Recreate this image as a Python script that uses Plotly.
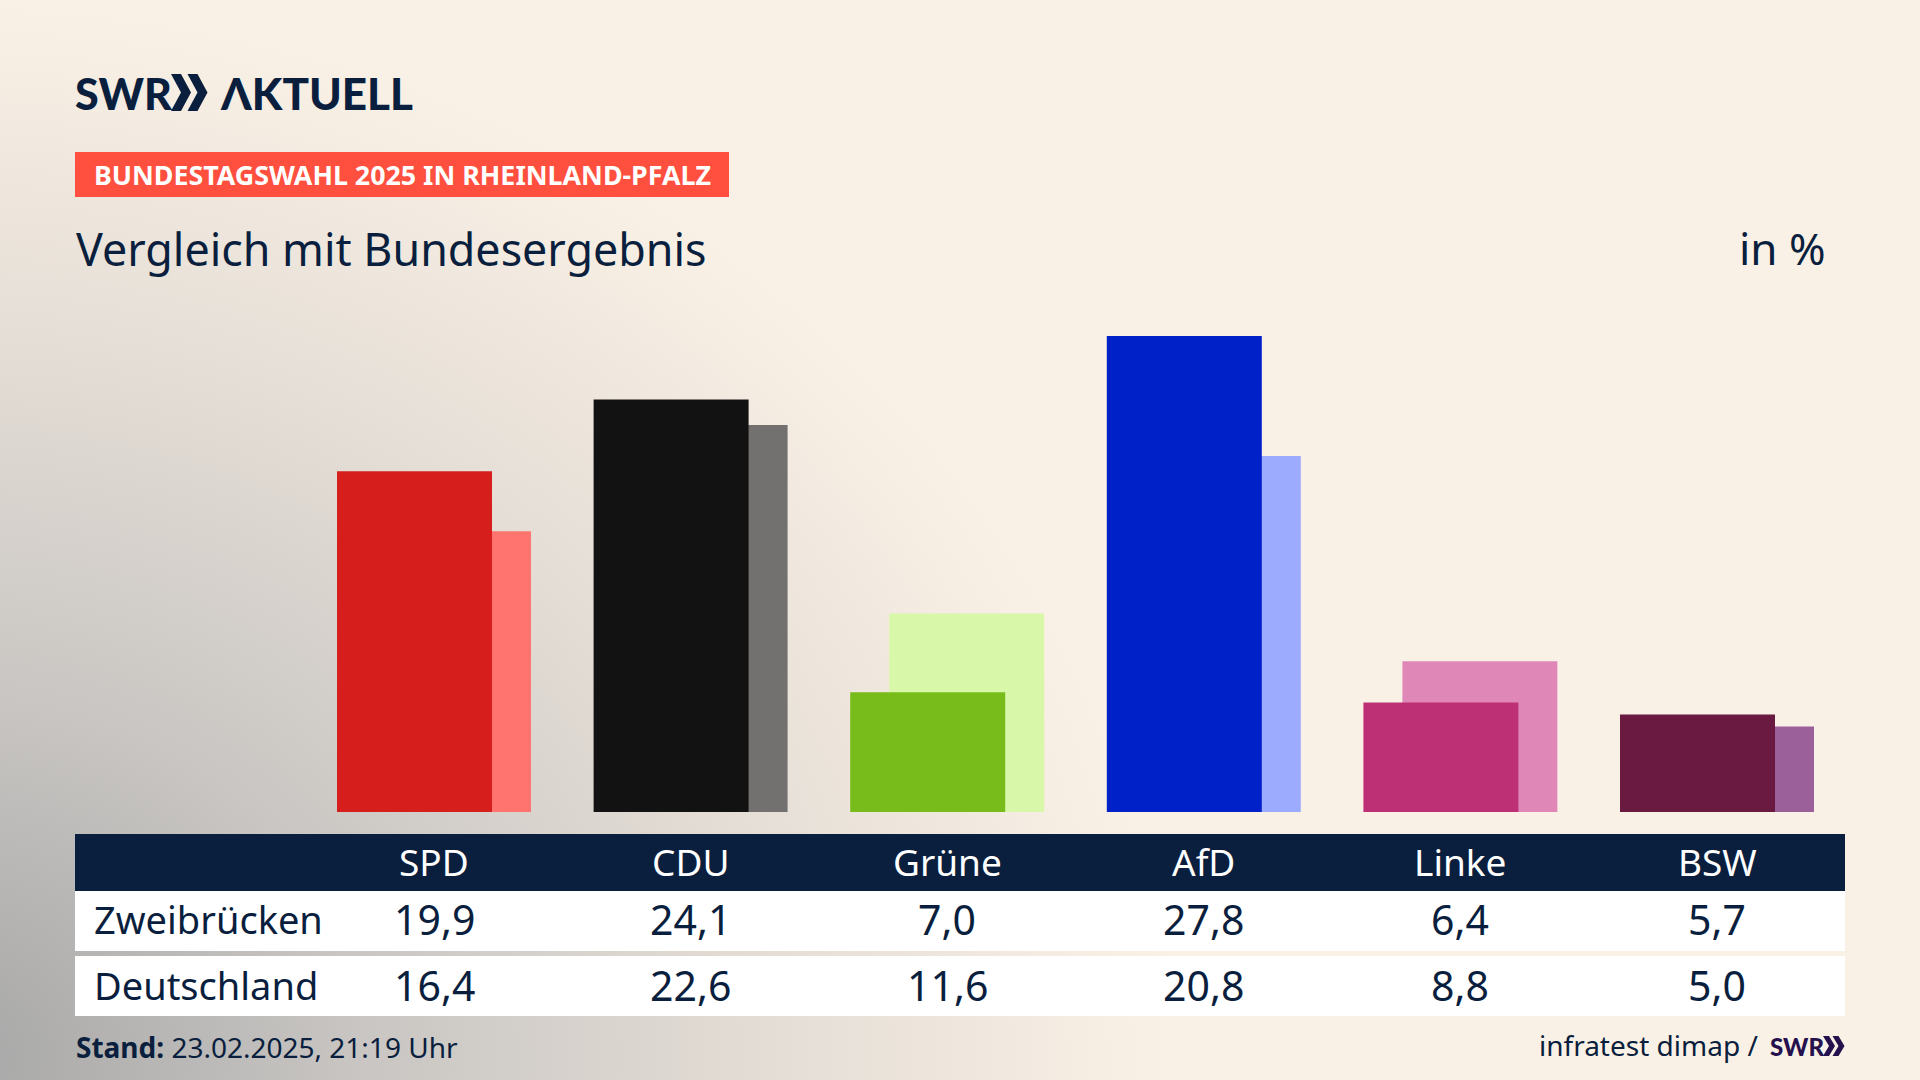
import base64
import plotly.graph_objects as go

# ---- data -------------------------------------------------------------
parties = ["SPD", "CDU", "Grüne", "AfD", "Linke", "BSW"]
zweibruecken = [19.9, 24.1, 7.0, 27.8, 6.4, 5.7]
deutschland = [16.4, 22.6, 11.6, 20.8, 8.8, 5.0]
row_labels = ["Zweibrücken", "Deutschland"]
colors_dark = ["#d61f1c", "#121212", "#78bc1b", "#0020c8", "#bd3075", "#6a1a41"]
colors_light = ["#ff746e", "#72716f", "#d8f7a9", "#9dabff", "#df87b6", "#9b6099"]

W, H = 1920, 1080
NAVY = "#0a1e3d"
FONT = "Noto Sans"
px = lambda v: v / W
py = lambda v: 1 - v / H

svg = f'''<svg xmlns="http://www.w3.org/2000/svg" width="{W}" height="{H}" viewBox="0 0 {W} {H}">
<defs><radialGradient id="g" gradientUnits="userSpaceOnUse" cx="0" cy="0" r="1"
 gradientTransform="translate(-60 1060) scale(1230 1060)">
<stop offset="0" stop-color="#a6a6a6"/><stop offset="0.35" stop-color="#c9c6c3"/>
<stop offset="0.7" stop-color="#e6dfd7"/><stop offset="1" stop-color="#faf1e6"/>
</radialGradient></defs><rect width="{W}" height="{H}" fill="url(#g)"/></svg>'''
bg = "data:image/svg+xml;base64," + base64.b64encode(svg.encode()).decode()

BAR_WIDTH = 0.604
GROUP_SHIFT = 0.152
fig = go.Figure()
fig.add_bar(x=parties, y=deutschland, name="Deutschland", width=BAR_WIDTH,
            offset=-(BAR_WIDTH + GROUP_SHIFT) / 2 + GROUP_SHIFT,
            marker=dict(color=colors_light, line_width=0), hoverinfo="skip")
fig.add_bar(x=parties, y=zweibruecken, name="Zweibrücken", width=BAR_WIDTH,
            offset=-(BAR_WIDTH + GROUP_SHIFT) / 2,
            marker=dict(color=colors_dark, line_width=0), hoverinfo="skip")

shapes, ann = [], []

def rect(x0, y0, x1, y1, c):
    shapes.append(dict(type="rect", xref="paper", yref="paper", x0=px(x0), x1=px(x1),
                       y0=py(y0), y1=py(y1), fillcolor=c, line_width=0, layer="below"))

def text(x, y, s, size, c=NAVY, anchor="left", xref="paper", font=FONT, weight=None):
    f = dict(family=font, size=size, color=c)
    if weight:
        f["weight"] = weight
    ann.append(dict(x=px(x) if xref == "paper" else x, y=py(y), xref=xref, yref="paper", text=s,
                    showarrow=False, xanchor=anchor, yanchor="middle", font=f))

def chevrons(x, y0, y1, w, gap, c):
    for i in range(2):
        a = x + i * gap
        mid = (y0 + y1) / 2
        t = w * 0.5
        d = (f"M{px(a)},{py(y0)} L{px(a + t)},{py(y0)} L{px(a + w)},{py(mid)} "
             f"L{px(a + t)},{py(y1)} L{px(a)},{py(y1)} L{px(a + w - t)},{py(mid)} Z")
        shapes.append(dict(type="path", xref="paper", yref="paper", path=d, fillcolor=c, line_width=0))

# logo
LOGO = "Lato"
text(73, 93, "SWR", 43, font=LOGO, weight=900)
chevrons(171, 74, 111, 20, 16.5, NAVY)
text(218, 93, "ΛKTUELL", 44, font=LOGO, weight=900)

# tag + titles
rect(75, 152, 729, 197, "#ff4f3e")
text(92, 175, "<b>BUNDESTAGSWAHL 2025 IN RHEINLAND-PFALZ</b>", 26.8, "#ffffff")
text(74, 248, "Vergleich mit Bundesergebnis", 44.8)
text(1828, 248, "in %", 44, anchor="right")

# table
rect(75, 834, 1845, 891, NAVY)
rect(75, 891, 1845, 951, "#ffffff")
rect(75, 956, 1845, 1016, "#ffffff")
for p in parties:
    text(p, 861, p, 37, "#ffffff", anchor="center", xref="x")
for y, label, vals in ((919, row_labels[0], zweibruecken), (985, row_labels[1], deutschland)):
    text(92, y, label, 38)
    for p, v in zip(parties, vals):
        text(p, y, f"{v:.1f}".replace(".", ","), 41, anchor="center", xref="x")

# footer
text(74, 1047, "<b>Stand:</b> 23.02.2025, 21:19 Uhr", 28)
text(1760, 1045, "infratest dimap /", 28, anchor="right")
text(1768, 1046, "SWR", 24, "#25114d", font=LOGO, weight=900)
chevrons(1823, 1036, 1056, 12, 9.5, "#25114d")

fig.update_layout(
    width=W, height=H, autosize=False, barmode="overlay", showlegend=False,
    margin=dict(l=0, r=0, t=0, b=0), paper_bgcolor="#faf1e6", plot_bgcolor="rgba(0,0,0,0)",
    xaxis=dict(domain=[px(305.7), px(1845.3)], type="category", categoryorder="array",
               categoryarray=parties, range=[-0.5, 5.5], showticklabels=False, showgrid=False,
               zeroline=False, showline=False, ticks=""),
    yaxis=dict(domain=[py(812), py(300)], range=[0, 512 / 17.12], showticklabels=False,
               showgrid=False, zeroline=False, showline=False, ticks=""),
    shapes=shapes, annotations=ann,
    images=[dict(source=bg, xref="paper", yref="paper", x=0, y=1, sizex=1, sizey=1,
                 xanchor="left", yanchor="top", sizing="stretch", layer="below")],
)
fig.write_html("out.html", config={"displayModeBar": False},
               post_script="document.body.style.margin='0';document.documentElement.style.overflow='hidden';")
